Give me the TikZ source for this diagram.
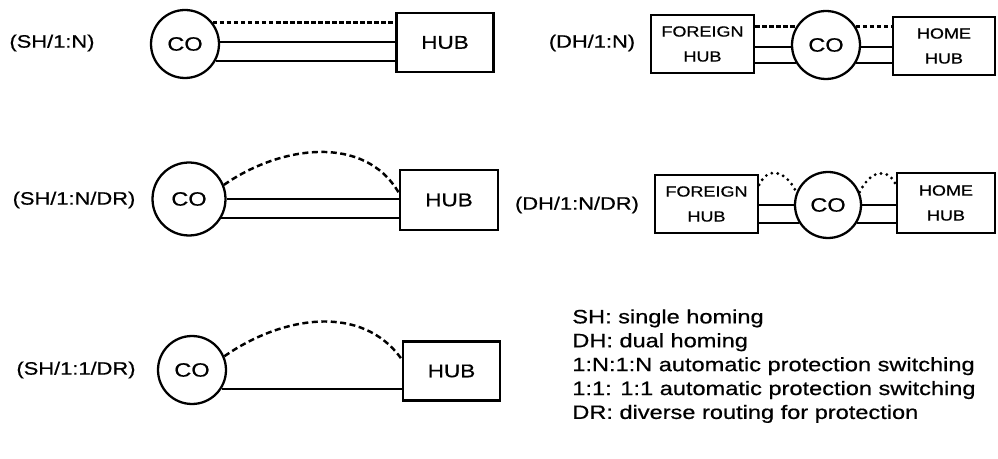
\documentclass[tikz,border=0pt]{standalone}
\usepackage{fontspec}
\setmainfont[FakeStretch=1.22,FakeBold=0.6]{Liberation Sans}

\tikzset{
  office/.style={draw,circle,line width=1.3pt,inner sep=0pt,minimum size=1.36cm,font=\fontsize{11}{13}\selectfont},
  hubbox/.style={draw,rectangle,line width=1.3pt,inner sep=0pt,minimum width=1.94cm,minimum height=1.18cm,font=\fontsize{10.5}{12}\selectfont},
  dualbox/.style={draw,rectangle,line width=1.3pt,inner sep=0pt,minimum width=2.06cm,minimum height=1.16cm,align=center,font=\fontsize{8.4}{14.2}\selectfont},
  tag/.style={inner sep=0pt,font=\fontsize{10.2}{12}\selectfont},
  link/.style={line width=1.2pt},
  spare/.style={line width=1.3pt,dash pattern=on 2.6pt off 1.4pt},
  bypass/.style={line width=1.4pt,dash pattern=on 3.4pt off 2pt},
  detour/.style={line width=1.8pt,line cap=round,dash pattern=on 0pt off 3.4pt},
}

\begin{document}
\begin{tikzpicture}[x=0.02cm,y=0.02cm]
	\useasboundingbox (0,0) rectangle (998,-459);

	% single homing, 1:N
	\node[tag] (sh1n) at (52,-43) {(SH/1:N)};
	\node[office] (co1) at (185,-44) {CO};
	\node[hubbox] (hub1) at (445,-42.5) {HUB};
	\draw[spare] (co1.38) -- (co1.38 -| hub1.west);
	\draw[link] (co1.3) -- (co1.3 -| hub1.west);
	\draw[link] (co1.-29) -- (co1.-29 -| hub1.west);

	% dual homing, 1:N
	\node[tag] (dh1n) at (592,-43) {(DH/1:N)};
	\node[dualbox] (fh1) at (702.5,-44) {FOREIGN\\HUB};
	\node[office] (co2) at (826,-45) {CO};
	\node[dualbox,minimum width=2.04cm] (hh1) at (944,-46) {HOME\\HUB};
	\draw[spare] (co2.148 -| fh1.east) -- (co2.148);
	\draw[spare] (co2.32) -- (co2.32 -| hh1.west);
	\draw[link] (co2.183 -| fh1.east) -- (co2.183);
	\draw[link] (co2.210 -| fh1.east) -- (co2.210);
	\draw[link] (co2.-3) -- (co2.-3 -| hh1.west);
	\draw[link] (co2.-30) -- (co2.-30 -| hh1.west);

	% single homing, 1:N, diverse routing
	\node[tag] (sh1ndr) at (74,-200) {(SH/1:N/DR)};
	\node[office,minimum size=1.46cm] (co3) at (189,-199) {CO};
	\node[hubbox,minimum width=1.96cm,minimum height=1.2cm] (hub2) at (449,-200) {HUB};
	\draw[link] (co3.0) -- (co3.0 -| hub2.west);
	\draw[link] (co3.-31) -- (co3.-31 -| hub2.west);
	\draw[bypass] (co3.22) to[out=35,in=120] (hub2.172);

	% dual homing, 1:N, diverse routing
	\node[tag] (dh1ndr) at (577,-205) {(DH/1:N/DR)};
	\node[dualbox] (fh2) at (706.5,-204) {FOREIGN\\HUB};
	\node[office,minimum size=1.32cm] (co5) at (828,-205) {CO};
	\node[dualbox,minimum width=1.96cm,minimum height=1.2cm] (hh2) at (946,-203) {HOME\\HUB};
	\draw[link] (co5.180 -| fh2.east) -- (co5.180);
	\draw[link] (co5.211 -| fh2.east) -- (co5.211);
	\draw[link] (co5.0) -- (co5.0 -| hh2.west);
	\draw[link] (co5.-31) -- (co5.-31 -| hh2.west);
	\draw[detour] (fh2.20) to[out=65,in=115,looseness=1.5] (co5.158);
	\draw[detour] (co5.22) to[out=65,in=115,looseness=1.5] (hh2.160);

	% single homing, 1:1, diverse routing
	\node[tag] (sh11dr) at (76,-370) {(SH/1:1/DR)};
	\node[office] (co4) at (192,-370) {CO};
	\node[hubbox] (hub3) at (451.5,-371) {HUB};
	\draw[link] (co4.-32) -- (co4.-32 -| hub3.west);
	\draw[bypass] (co4.23) to[out=35,in=125] (hub3.167);

	% abbreviations
	\node[anchor=north west,inner sep=0pt,align=left,font=\fontsize{11}{13.6}\selectfont] (legend) at (572,-309)
	  {SH: single homing\\
	   DH: dual homing\\
	   1:N:1:N automatic protection switching\\
	   1:1: 1:1 automatic protection switching\\
	   DR: diverse routing for protection};

\end{tikzpicture}
\end{document}
